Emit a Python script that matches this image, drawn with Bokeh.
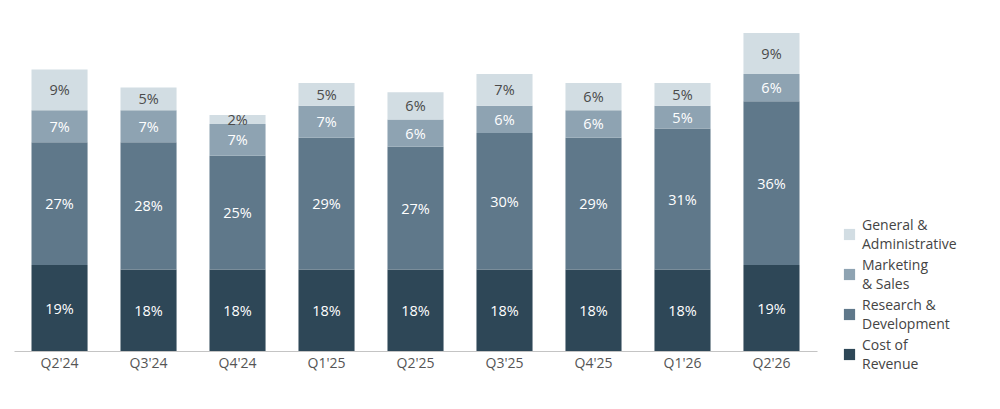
from bokeh.plotting import figure
from bokeh.models import ColumnDataSource, FixedTicker, Legend, LegendItem, Range1d
from bokeh.core.properties import value
from bokeh.embed import file_html
from bokeh.resources import INLINE

quarters = ["Q2'24", "Q3'24", "Q4'24", "Q1'25", "Q2'25", "Q3'25", "Q4'25", "Q1'26", "Q2'26"]
cost = [19, 18, 18, 18, 18, 18, 18, 18, 19]
rnd = [27, 28, 25, 29, 27, 30, 29, 31, 36]
mkt = [7, 7, 7, 7, 6, 6, 6, 5, 6]
gna = [9, 5, 2, 5, 6, 7, 6, 5, 9]

series = ["cost", "rnd", "mkt", "gna"]
names = ["Cost of\nRevenue", "Research &\nDevelopment", "Marketing\n& Sales", "General &\nAdministrative"]
colors = ["#2e4757", "#5f788a", "#8ea3b2", "#d2dde3"]
label_colors = ["#ffffff", "#ffffff", "#ffffff", "#4a4a4a"]

xs = list(range(len(quarters)))
src = ColumnDataSource(dict(x=xs, cost=cost, rnd=rnd, mkt=mkt, gna=gna))

FONT = "Open Sans"

p = figure(frame_width=803, frame_height=339, output_backend="svg", toolbar_location=None,
           x_range=Range1d(-0.506, 8.517), y_range=Range1d(0, 74.5),
           y_axis_location=None, min_border_left=14, min_border_right=0,
           min_border_top=12, min_border_bottom=40, outline_line_color=None)
p.grid.visible = False

rs = p.vbar_stack(series, x="x", width=0.63, color=colors, source=src, line_color=None)

# segment labels
data = [cost, rnd, mkt, gna]
base = [0] * len(quarters)
for vals, tc in zip(data, label_colors):
    cy = [b + v / 2 for b, v in zip(base, vals)]
    txt = [f"{v}%" for v in vals]
    lsrc = ColumnDataSource(dict(x=xs, y=cy, t=txt))
    p.text(x="x", y="y", text="t", source=lsrc, text_align="center", text_baseline="middle",
           text_color=tc, text_font=value(FONT), text_font_size="14.5px")
    base = [b + v for b, v in zip(base, vals)]

ax = p.xaxis[0]
ax.ticker = FixedTicker(ticks=xs)
ax.major_label_overrides = {i: q for i, q in enumerate(quarters)}
ax.major_tick_line_color = None
ax.major_tick_out = 0
ax.major_tick_in = 0
ax.minor_tick_line_color = None
ax.axis_line_color = "#c4c4c4"
ax.axis_line_width = 1.2
ax.major_label_text_font = FONT
ax.major_label_text_font_size = "14px"
ax.major_label_text_color = "#555555"
ax.major_label_standoff = 1

items = [LegendItem(label=n, renderers=[r]) for n, r in zip(names, rs)][::-1]
legend = Legend(items=items, location=(25, -22), orientation="vertical",
                glyph_width=14, glyph_height=14, label_text_font=FONT,
                label_text_font_size="14px", label_text_color="#444444",
                label_text_line_height=0.85, spacing=2, padding=0, margin=0,
                border_line_color=None, background_fill_alpha=0, label_standoff=6)
p.add_layout(legend, "right")

open("out.html", "w").write(file_html(p, INLINE))
